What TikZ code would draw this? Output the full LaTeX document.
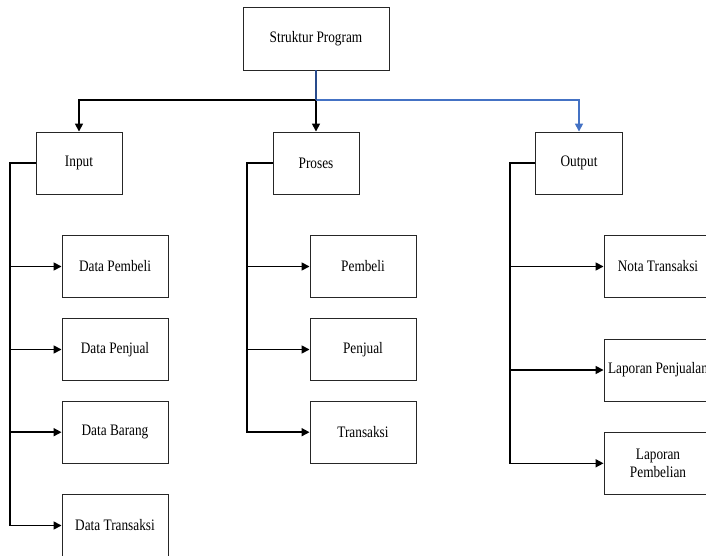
\documentclass[tikz,border=0pt]{standalone}
\usepackage{fontspec}
\setmainfont{Liberation Serif}[FakeStretch=0.83]
\usetikzlibrary{arrows.meta}
\definecolor{linkblue}{RGB}{68,114,196}
\definecolor{joinblue}{RGB}{40,75,140}
\tikzset{
  box/.style={draw=black!85, line width=0.9bp, minimum height=62bp, align=center,
              inner sep=0pt, font=\fontsize{16bp}{18.4bp}\selectfont},
  wire/.style={draw=black, line width=1.6bp},
  feed/.style={wire, -{Triangle[length=8bp,width=8bp]}},
}
\begin{document}
\begin{tikzpicture}[x=1bp, y=-1bp]
  \path[use as bounding box] (0,0) rectangle (706,556);
  \clip (0,0) rectangle (706,556);

  % top level
  \node[box, minimum width=146bp, minimum height=63bp] (sp) at (316,38.5) {Struktur Program};

  % second level
  \node[box, minimum width=86bp] (in)  at (79,163)  {Input};
  \node[box, minimum width=86bp] (pr)  at (316,163) {Proses};
  \node[box, minimum width=87bp] (out) at (579,163) {Output};

  % input items
  \node[box, minimum width=106bp] (dpb) at (115,266.5) {Data Pembeli};
  \node[box, minimum width=106bp] (dpj) at (115,349.5) {Data Penjual};
  \node[box, minimum width=106bp] (dbr) at (115,432.2) {Data Barang};
  \node[box, minimum width=106bp] (dtr) at (115,525.5) {Data Transaksi};

  % process items
  \node[box, minimum width=106bp] (ppb) at (363,266.5) {Pembeli};
  \node[box, minimum width=106bp] (ppj) at (363,349.5) {Penjual};
  \node[box, minimum width=106bp] (ptr) at (363,432.2) {Transaksi};

  % output items
  \node[box, minimum width=108bp] (ont) at (658,266.5) {Nota Transaksi};
  \node[box, minimum width=108bp] (olj) at (658,370)   {Laporan Penjualan};
  \node[box, minimum width=108bp] (olb) at (658,463.3) {Laporan\\Pembelian};

  % trunk corners
  \coordinate (jn) at (316,100);
  \coordinate (inT) at (10,163);
  \coordinate (prT) at (247,163);
  \coordinate (outT) at (510,163);

  % top level to second level
  \draw[feed] (jn) -| (in.north);
  \draw[feed] (jn) -- (pr.north);
  \draw[feed, color=linkblue] (jn) -| (out.north);
  \draw[wire, color=joinblue] (sp.south) -- (jn);

  % input branches
  \foreach \t in {dpb,dpj,dbr,dtr}
    \draw[feed] (in.west) -- (inT) |- (\t.west);
  % process branches
  \foreach \t in {ppb,ppj,ptr}
    \draw[feed] (pr.west) -- (prT) |- (\t.west);
  % output branches
  \foreach \t in {ont,olj,olb}
    \draw[feed] (out.west) -- (outT) |- (\t.west);
\end{tikzpicture}
\end{document}
